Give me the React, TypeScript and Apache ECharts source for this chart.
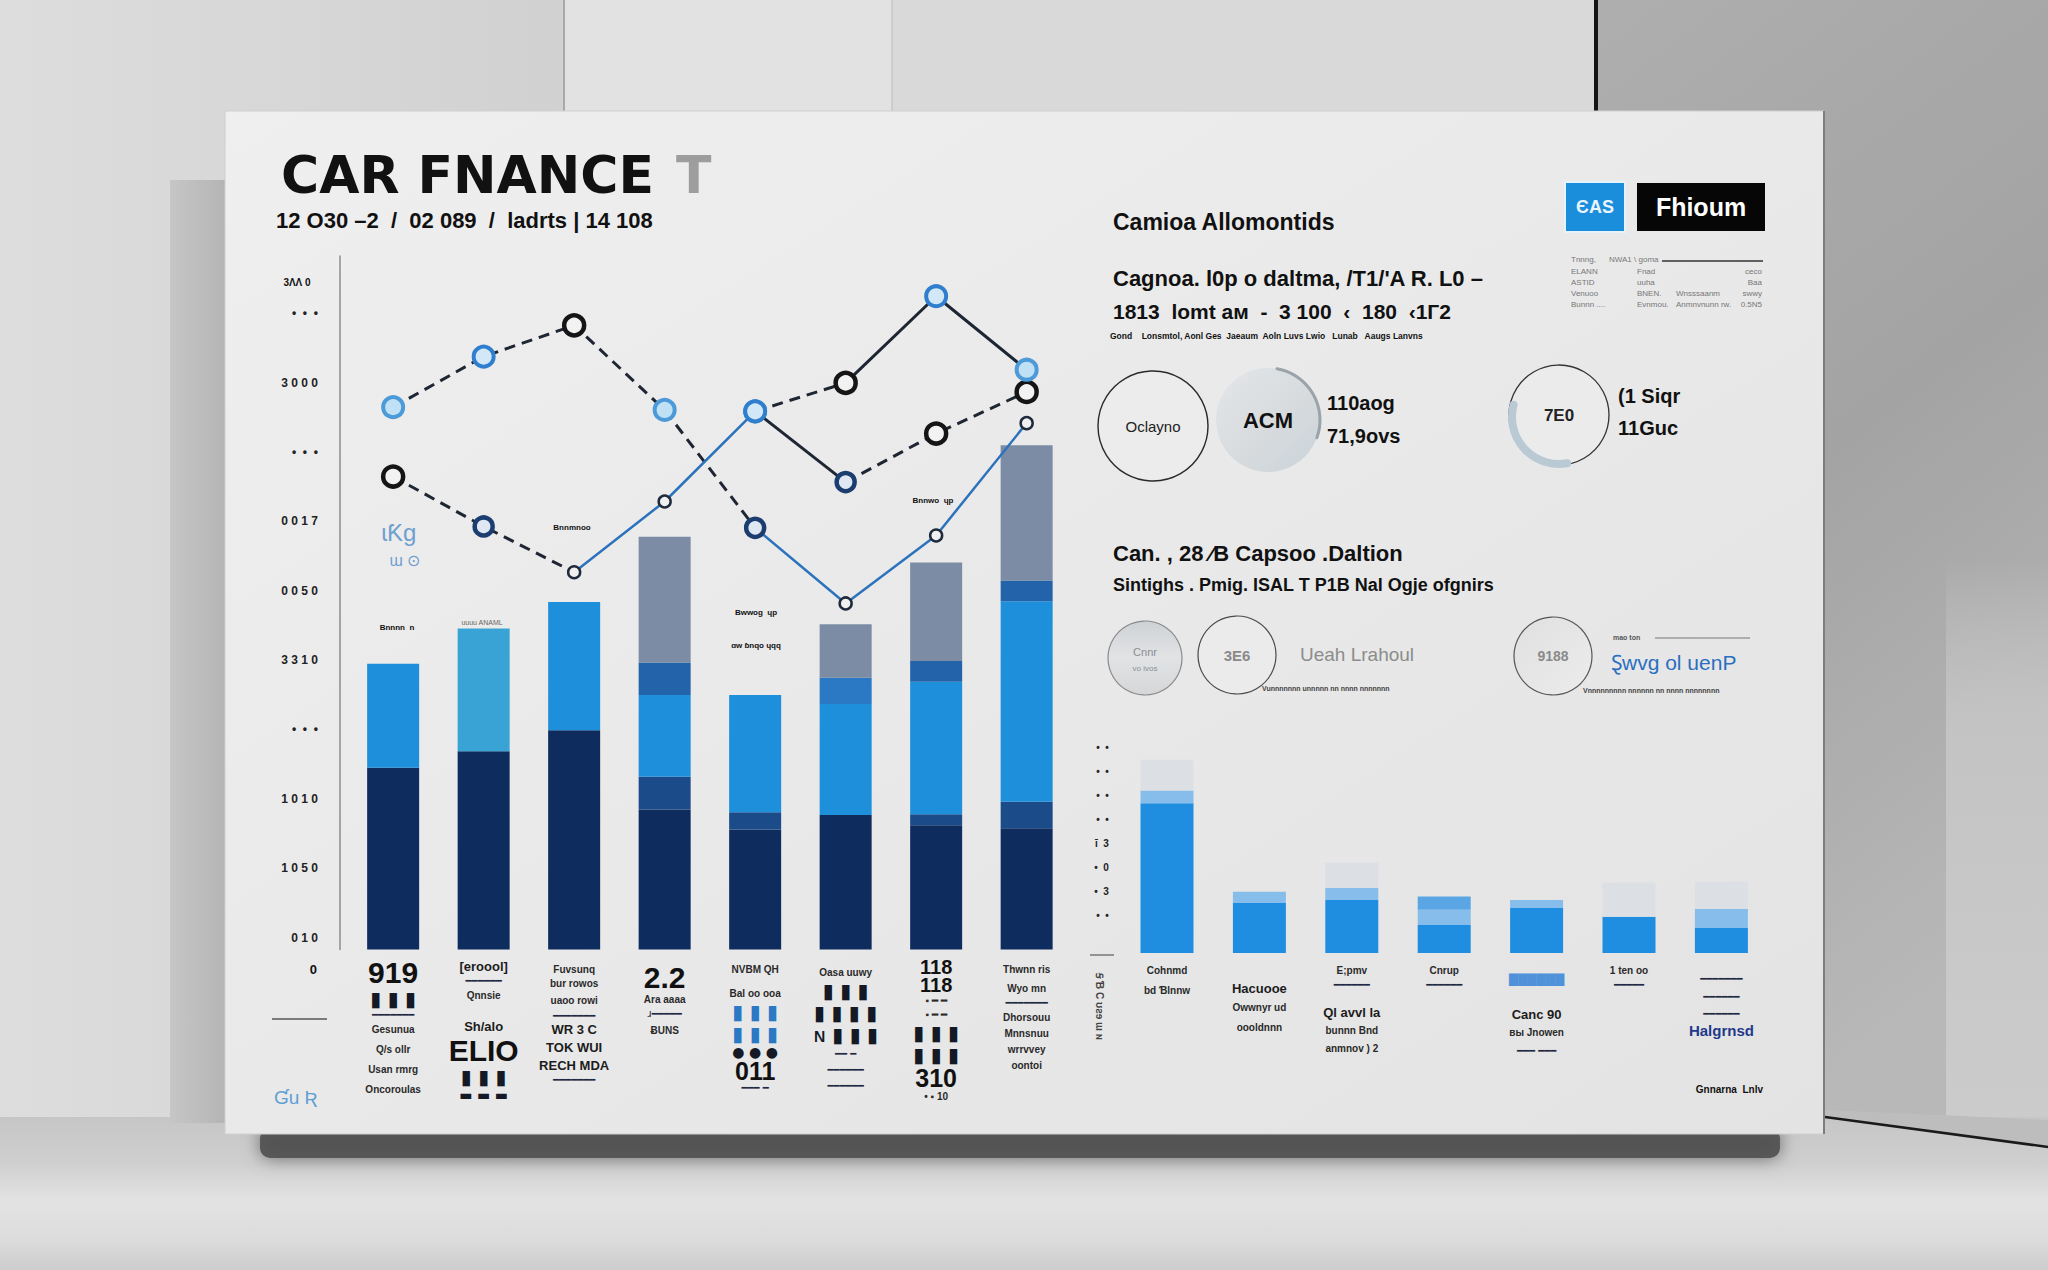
import React, { useEffect, useRef } from "react";
import * as echarts from "echarts";

const SANS = "'Liberation Sans', Arial, Helvetica, sans-serif";
const DEJA = "'DejaVu Sans', sans-serif";
const NARROW = "'Liberation Sans Narrow', 'Liberation Sans', Arial, sans-serif";

// ---------------- left chart data ----------------
const leftCategories = ["C1", "C2", "C3", "C4", "C5", "C6", "C7", "C8"];
const leftNavy = [2.62, 2.86, 3.16, 2.02, 1.73, 1.94, 1.79, 1.75];
const leftMidNavy = [0, 0, 0, 0.47, 0.25, 0, 0.16, 0.38];
const leftBlue = [1.5, 1.77, 1.85, 1.18, 1.69, 1.6, 1.91, 2.89];
const leftBand = [0, 0, 0, 0.47, 0, 0.38, 0.3, 0.3];
const leftGray = [0, 0, 0, 1.81, 0, 0.77, 1.42, 1.95];
const lineA = [7.82, 8.55, 9.0, 7.78, 6.08, 4.99, 5.97, 7.59];
const lineB = [6.82, 6.1, 5.44, 6.46, 7.76, 6.74, 7.44, 8.04];
const lineC = [null, null, null, null, 7.76, 8.17, 9.42, 8.36];
const leftYLabels = ["0 1 0", "1 0 5 0", "1 0 1 0", "•  •  •", "3 3 1 0", "0 0 5 0", "0 0 1 7", "•  •  •", "3 0 0 0", "•  •  •"];
const leftXLabelRows = [
  ["919", "▮ ▮ ▮", "━━━━━━━", "Gesunua", "Q/s ollr", "Usan rmrg", "Oncoroulas"],
  ["[eroool]", "━━━━━━", "Qnnsie", " ", "Sh/alo", "ELIO", "▮ ▮ ▮", "▬ ▬ ▬"],
  [" ", "Fuvsunq", "bur rowos", "uaoo rowi", "━━━━━━━", "WR 3 C", "TOK WUI", "RECH MDA", "━━━━━━━"],
  [" ", "2.2", "Ara aaaa", "ɹ━━━━━", "ɃUNS"],
  [" ", "NVBM QH", " ", "Bal oo ooa", "▮ ▮ ▮", "▮ ▮ ▮", "● ● ●", "011", "━━━ ━"],
  [" ", "Oasa uuwy", "▮ ▮ ▮", "▮ ▮ ▮ ▮", "ɴ ▮ ▮ ▮", "━━ ━", "━━━━━━", "━━━━━━"],
  ["118", "118", "▪ ━ ━", "▪ ━ ━", "▮ ▮ ▮", "▮ ▮ ▮", "310", "• ▪ 10"],
  [" ", "Thwnn ris", " ", "Wyo mn", "━━━━━━━", "Dhorsouu", "Mnnsnuu", "wrrvvey", "oontoi"],
];
const leftXLabelKinds = [
  ["B", "K", "R10", "S", "S", "S", "S"],
  ["M", "R10", "S", "E12", "M", "B", "K", "KS"],
  ["E5", "T", "T", "S", "R10", "M", "M", "M", "R10"],
  ["E5", "B", "T", "R14", "S"],
  ["E5", "T", "E10", "T", "KB", "KB", "KS", "N2", "R10"],
  ["E8", "T", "K", "K", "K", "R16", "R16", "R16"],
  ["N", "N", "T", "T", "K", "K", "N2", "T"],
  ["E5", "T", "E5", "T", "R14", "T16", "T16", "T16", "T16"],
];
const markerKindsA = ["lb", "b", "k", "lb", "db", "sm", "sm", "sm"];
const markerKindsB = ["k", "db", "sm", "sm", "b", "db", "k", "k"];
const markerKindsC = ["", "", "", "", "b", "k", "b", "lb"];

// ---------------- right chart data ----------------
const rightCategories = ["D1", "D2", "D3", "D4", "D5", "D6", "D7"];
const rightBlue = [6.24, 2.08, 2.21, 1.17, 1.88, 1.51, 1.04];
const rightBand = [0.53, 0.47, 0.5, 0.63, 0.33, 0, 0.79];
const rightPale = [1.28, 0, 1.05, 0.55, 0, 1.42, 1.14];
const rightYLabels = ["•  •", "•  3", "•  0", "ī  3", "•  •", "•  •", "•  •", "•  •"];
const rightXLabelRows = [
  ["Cohnmd", " ", "bd Ɓlnnw"],
  [" ", "Hacuooe", "Owwnyr ud", "oooldnnn"],
  ["E;pmv", "━━━━━━", " ", "Ql avvl la", "bunnn Bnd", "anmnov ) 2"],
  ["Cnrup", "━━━━━━"],
  [" ", "▇▇▇▇▇▇", " ", "Canc 90", "вы Jnowen", "━━━ ━━━"],
  ["1 ten oo", "━━━━━"],
  [" ", "━━━━━━━", "━━━━━━", "━━━━━━", "Halgrnsd"],
];
const rightXLabelKinds = [
  ["T", "E6", "T"],
  ["E16", "M", "S", "S"],
  ["T", "R14", "E12", "M", "T18", "T18"],
  ["T", "R14"],
  ["E6", "BX", "E16", "M", "T18", "R18"],
  ["T", "R14"],
  ["E6", "R18", "R18", "R16", "MB"],
];

// ---------------- styles ----------------
const RICH: any = {
  E5: { fontSize: 4, lineHeight: 5 },
  E6: { fontSize: 4, lineHeight: 6 },
  E8: { fontSize: 4, lineHeight: 8 },
  E10: { fontSize: 4, lineHeight: 10 },
  E12: { fontSize: 4, lineHeight: 12 },
  E16: { fontSize: 4, lineHeight: 16 },
  B: { fontFamily: NARROW, fontWeight: "bold", fontSize: 30, lineHeight: 30, color: "#111" },
  N: { fontFamily: NARROW, fontWeight: "bold", fontSize: 20, lineHeight: 18, color: "#111" },
  N2: { fontFamily: NARROW, fontWeight: "bold", fontSize: 25, lineHeight: 24, color: "#111" },
  M: { fontFamily: SANS, fontWeight: "bold", fontSize: 13, lineHeight: 18, color: "#1c1c1c" },
  MB: { fontFamily: SANS, fontWeight: "bold", fontSize: 15, lineHeight: 18, color: "#1f3a8a" },
  T: { fontFamily: SANS, fontWeight: "bold", fontSize: 10, lineHeight: 14, color: "#2a2a2a" },
  T16: { fontFamily: SANS, fontWeight: "bold", fontSize: 10, lineHeight: 16, color: "#2a2a2a" },
  T18: { fontFamily: SANS, fontWeight: "bold", fontSize: 10, lineHeight: 18, color: "#2a2a2a" },
  S: { fontFamily: SANS, fontWeight: "bold", fontSize: 10, lineHeight: 20, color: "#2a2a2a" },
  R10: { fontFamily: DEJA, fontSize: 10, lineHeight: 10, color: "#1e2a44" },
  R14: { fontFamily: DEJA, fontSize: 10, lineHeight: 14, color: "#1e2a44" },
  R16: { fontFamily: DEJA, fontSize: 10, lineHeight: 16, color: "#1e2a44" },
  R18: { fontFamily: DEJA, fontSize: 10, lineHeight: 18, color: "#1e2a44" },
  K: { fontFamily: DEJA, fontSize: 20, lineHeight: 22, color: "#151926" },
  KS: { fontFamily: DEJA, fontSize: 14, lineHeight: 14, color: "#151926" },
  KB: { fontFamily: DEJA, fontSize: 20, lineHeight: 22, color: "#2b79c4" },
  BX: { fontFamily: DEJA, fontSize: 12, lineHeight: 20, color: "#4f92da" },
};

const MK: any = {
  lb: { size: 20, fill: "#bfe0f5", stroke: "#4d9ad8", bw: 4 },
  b: { size: 20, fill: "#d3e8f6", stroke: "#2f7fce", bw: 4 },
  k: { size: 20, fill: "#f2f2f2", stroke: "#151515", bw: 4.5 },
  db: { size: 18, fill: "#dfe8f2", stroke: "#1c3d70", bw: 4.5 },
  sm: { size: 12, fill: "#f0f0f0", stroke: "#1f2b3c", bw: 2.5 },
};

function txt(x: number, y: number, text: string, size: number, o: any = {}) {
  const align = o.align || "left";
  const va = o.va || "middle";
  return {
    type: "text",
    x,
    y,
    rotation: o.rotation || 0,
    style: {
      text,
      fill: o.color || "#111",
      font: `${o.weight || "bold"} ${size}px ${o.family || SANS}`,
      align,
      verticalAlign: va,
      textAlign: align,
      textVerticalAlign: va,
      opacity: o.opacity == null ? 1 : o.opacity,
    },
  };
}
function rect(x: number, y: number, w: number, h: number, fill: any, extra: any = {}) {
  return { type: "rect", shape: { x, y, width: w, height: h, r: extra.r || 0 }, style: { fill, stroke: extra.stroke || null, lineWidth: extra.lw || 0, shadowBlur: extra.blur || 0, shadowColor: extra.shadow || "transparent", opacity: extra.opacity == null ? 1 : extra.opacity } };
}
function line(x1: number, y1: number, x2: number, y2: number, stroke: string, lw: number) {
  return { type: "line", shape: { x1, y1, x2, y2 }, style: { stroke, lineWidth: lw } };
}
function circle(cx: number, cy: number, r: number, fill: any, stroke: string | null, lw: number) {
  return { type: "circle", shape: { cx, cy, r }, style: { fill, stroke, lineWidth: lw } };
}
function arc(cx: number, cy: number, r: number, a0: number, a1: number, stroke: string, lw: number) {
  return { type: "arc", shape: { cx, cy, r, startAngle: (a0 * Math.PI) / 180, endAngle: (a1 * Math.PI) / 180, clockwise: true }, style: { stroke, lineWidth: lw, fill: null, lineCap: "round" } };
}
const LG = (x0: number, y0: number, x1: number, y1: number, stops: [number, string][]) =>
  new echarts.graphic.LinearGradient(x0, y0, x1, y1, stops.map(([offset, color]) => ({ offset, color })));

function buildGraphics() {
  const g: any[] = [];
  // room background
  g.push(rect(0, 0, 2048, 1270, "#d8d8d8"));
  g.push(rect(0, 0, 564, 1117, LG(0, 0, 1, 0, [[0, "#dddddd"], [1, "#d1d1d1"]])));
  g.push(rect(564, 0, 328, 1117, "#e2e2e2"));
  g.push(rect(892, 0, 704, 1117, "#d9d9d9"));
  g.push(rect(1596, 0, 452, 1150, LG(0, 0, 0.3, 1, [[0, "#aeaeae"], [0.5, "#a3a3a3"], [1, "#b8b8b8"]])));
  g.push(rect(1946, 560, 102, 590, LG(0, 0, 0, 1, [[0, "rgba(205,205,205,0)"], [0.3, "#c4c4c4"], [1, "#cccccc"]])));
  g.push(line(564, 0, 564, 111, "#a9a9a9", 2));
  g.push(line(892, 0, 892, 111, "#bcbcbc", 1));
  g.push(line(1596, 0, 1596, 111, "#141414", 4));
  // floor
  g.push(rect(0, 1117, 2048, 153, LG(0, 0, 0, 1, [[0, "#c6c6c6"], [0.3, "#cfcfcf"], [0.55, "#e3e3e3"], [0.8, "#dcdcdc"], [1, "#cdcdcd"]])));
  g.push({ type: "polygon", shape: { points: [[1825, 1117], [2048, 1146], [2048, 1120], [1825, 1110]] }, style: { fill: "#bdbdbd" } });
  g.push(line(1825, 1117, 2048, 1147, "#1a1a1a", 2.5));
  // side panel behind board
  g.push(rect(170, 180, 60, 943, LG(0, 0, 1, 0, [[0, "#c6c6c6"], [1, "#b3b3b3"]])));
  // board shadow
  g.push(rect(260, 1128, 1520, 30, "#4f4f4f", { r: 10, blur: 18, shadow: "rgba(0,0,0,0.55)", opacity: 0.9 }));
  // board
  g.push(rect(225, 111, 1599, 1023, LG(0, 0, 1, 1, [[0, "#efefef"], [0.5, "#e9e9e9"], [1, "#e3e3e3"]]), { stroke: "#cfcfcf", lw: 1 }));
  g.push(line(1824, 111, 1824, 1134, "#7d7d7d", 2));

  // title block
  g.push(txt(281, 175, "CAR FNANCE", 52, { family: DEJA }));
  g.push(txt(676, 175, "T", 52, { family: DEJA, color: "#9d9d9d" }));
  g.push(txt(276, 220, "12 O30 –2  /  02 089  /  ladrts | 14 108", 22));

  // left chart extras
  g.push(txt(297, 282, "3ΛΛ 0", 10, { align: "center" }));
  g.push(txt(317, 969, "0", 13, { align: "right" }));
  g.push(line(272, 1019, 327, 1019, "#555", 1.5));
  g.push(txt(274, 1097, "Ɠu Ʀ", 19, { color: "#5d9fd3", weight: "normal" }));
  g.push(txt(399, 532, "ɩƘg", 24, { color: "#6f9fd0", weight: "normal", align: "center" }));
  g.push(txt(405, 560, "ɯ ⊙", 16, { color: "#6f9fd0", weight: "normal", align: "center" }));
  g.push(txt(572, 527, "Bnnmnoo", 8, { align: "center" }));
  g.push(txt(397, 627, "Bnnnn  n", 8, { align: "center" }));
  g.push(txt(482, 622, "uuuu ANAML", 7, { align: "center", color: "#666", weight: "normal" }));
  g.push(txt(756, 612, "Bwwog  ɥp", 8, { align: "center" }));
  g.push(txt(756, 645, "ɑw ɓnqo ɥqq", 8, { align: "center" }));
  g.push(txt(933, 500, "Bnnwo  ɥp", 8, { align: "center" }));

  // right header texts
  g.push(txt(1113, 222, "Camioa Allomontids", 23));
  g.push(txt(1113, 278, "Cagnoa. l0p o daltma, /T1/'A R. L0 –", 22));
  g.push(txt(1113, 311, "1813  lomt aм  -  3 100  ‹  180  ‹1Г2", 21));
  g.push(txt(1110, 336, "Gond    Lonsmtol, Aonl Ges  Jaeaum  Aoln Luvs Lwio   Lunab   Aaugs Lanvns", 8.5));

  // label boxes
  g.push(rect(1565, 182, 60, 50, "#1b8edb", { stroke: "#e8f2fb", lw: 2 }));
  g.push(txt(1595, 207, "ЄAS", 18, { align: "center", color: "#eaf4ff" }));
  g.push(rect(1636, 182, 130, 50, "#060606", { stroke: "#e8e8e8", lw: 2 }));
  g.push(txt(1701, 207, "Fhioum", 25, { align: "center", color: "#ffffff" }));

  // tiny table
  const tc = { weight: "normal", color: "#777" };
  g.push(txt(1571, 259, "Tnnng,", 8, tc));
  g.push(txt(1609, 259, "NWA1 \\ goma", 8, tc));
  g.push(line(1662, 261, 1763, 261, "#333", 1.5));
  const tRows = [
    ["ELANN", "Fnad", "", "ceco"],
    ["ASTID", "uuha", "", "Baa"],
    ["Venuoo", "BNEN.", "Wnsssaanm", "swwy"],
    ["Bunnn ....", "Evnmou.", "Anmnvnunn rw.", "0.5N5"],
  ];
  tRows.forEach((r, i) => {
    const y = 271 + i * 11;
    g.push(txt(1571, y, r[0], 8, tc));
    g.push(txt(1637, y, r[1], 8, tc));
    if (r[2]) g.push(txt(1676, y, r[2], 8, tc));
    g.push(txt(1762, y, r[3], 8, { ...tc, align: "right" }));
  });

  // circles row 1
  g.push(circle(1153, 426, 55, "#ececec", "#2a2a2a", 1.4));
  g.push(txt(1153, 426, "Oclayno", 15, { align: "center", weight: "normal", color: "#222" }));
  g.push(circle(1268, 420, 52, LG(0, 0, 1, 1, [[0, "#e4e6e8"], [0.6, "#d6dadd"], [1, "#c9d4da"]]), null, 0));
  g.push(arc(1268, 420, 52, 280, 20, "#9aa3aa", 3));
  g.push(txt(1268, 420, "ACM", 22, { align: "center", color: "#111" }));
  g.push(txt(1327, 403, "110aog", 20));
  g.push(txt(1327, 436, "71,9ovs", 20));
  g.push(circle(1559, 415, 50, "#ebebeb", "#333", 1.3));
  g.push(arc(1559, 417, 47, 80, 195, "#b9cad5", 8));
  g.push(txt(1559, 415, "7E0", 17, { align: "center", color: "#222" }));
  g.push(txt(1618, 396, "(1 Siqr", 20));
  g.push(txt(1618, 428, "11Guc", 20));

  // section 2 header
  g.push(txt(1113, 553, "Can. , 28 ⁄B Capsoo .Daltion", 22));
  g.push(txt(1113, 585, "Sintighs . Pmig. ISAL T P1B Nal Ogje ofgnirs", 18));

  // circles row 2
  g.push(circle(1145, 658, 37, LG(0, 0, 0, 1, [[0, "#cfd2d5"], [0.5, "#e1e3e5"], [1, "#d4d6d8"]]), "#8a8a8a", 1.2));
  g.push(txt(1145, 652, "Cnnr", 11, { align: "center", color: "#8a8f94", weight: "normal" }));
  g.push(txt(1145, 668, "vo ivos", 8, { align: "center", color: "#8a8f94", weight: "normal" }));
  g.push(circle(1237, 655, 39, "#ebebeb", "#4a4a4a", 1.2));
  g.push(txt(1237, 655, "3E6", 15, { align: "center", color: "#8a8a8a" }));
  g.push(txt(1300, 654, "Ueah Lrahoul", 19, { color: "#8c8c8c", weight: "normal" }));
  g.push(txt(1262, 688, "Vunnnnnnn unnnnn nn nnnn nnnnnnn", 7, { color: "#444" }));
  g.push(circle(1553, 656, 39, LG(0, 0, 1, 1, [[0, "#e0e0e0"], [1, "#ececec"]]), "#555", 1.2));
  g.push(txt(1553, 656, "9188", 14, { align: "center", color: "#8a8a8a" }));
  g.push(txt(1613, 637, "mao ton", 7, { color: "#555" }));
  g.push(line(1655, 638, 1750, 638, "#777", 1));
  g.push(txt(1611, 662, "Ȿwvg ol uenP", 21, { color: "#2a6fc0", weight: "normal" }));
  g.push(txt(1583, 690, "Vnnnnnnnnn nnnnnn nn nnnn nnnnnnnn", 7, { color: "#444" }));

  // right chart extras
  g.push(line(1090, 955, 1114, 955, "#777", 1.5));
  g.push(txt(1099, 973, "Ꞩ Ɓ C ʊƨɘ ɯ ɴ", 10, { rotation: -Math.PI / 2, color: "#444" }));
  g.push(txt(1763, 1089, "Gnnarna  Lnlv", 10, { align: "right" }));
  return g;
}

function seg(arr: (number | null)[], a: number, b: number) {
  return arr.map((v, i) => (i >= a && i <= b && v != null ? v : "-"));
}
function lineSeg(data: any[], color: string, dashed: boolean, width = 3) {
  return {
    type: "line", xAxisIndex: 0, yAxisIndex: 0, data, symbol: "none", connectNulls: false, z: 5,
    lineStyle: { color, width, type: dashed ? [11, 7] : "solid" },
  };
}
function markers(arr: (number | null)[], kinds: string[]) {
  return {
    type: "scatter", xAxisIndex: 0, yAxisIndex: 0, z: 6,
    data: arr.map((v, i) => {
      if (v == null || !kinds[i]) return "-";
      const m = MK[kinds[i]];
      return { value: v, symbolSize: m.size, itemStyle: { color: m.fill, borderColor: m.stroke, borderWidth: m.bw, opacity: 1 } };
    }),
  };
}

function buildOption() {
  const DARK = "#1f2633";
  const BLUE = "#2c72bd";
  return {
    animation: false,
    textStyle: { fontFamily: SANS },
    graphic: { elements: buildGraphics() },
    grid: [
      { left: 347.9, width: 724, top: 256, height: 693.5 },
      { left: 1120.8, width: 646.8, top: 749, height: 204 },
    ],
    xAxis: [
      {
        type: "category", gridIndex: 0, data: leftCategories,
        axisLine: { show: false }, axisTick: { show: false },
        axisLabel: {
          interval: 0, margin: 8, hideOverlap: false, verticalAlign: "top",
          formatter: (_v: string, idx: number) => leftXLabelRows[idx].map((t, j) => `{${leftXLabelKinds[idx][j]}|${t}}`).join("\n"),
          rich: RICH,
        },
      },
      {
        type: "category", gridIndex: 1, data: rightCategories,
        axisLine: { show: false }, axisTick: { show: false },
        axisLabel: {
          interval: 0, margin: 10, hideOverlap: false, verticalAlign: "top",
          formatter: (_v: string, idx: number) => rightXLabelRows[idx].map((t, j) => `{${rightXLabelKinds[idx][j]}|${t}}`).join("\n"),
          rich: RICH,
        },
      },
    ],
    yAxis: [
      {
        type: "value", gridIndex: 0, min: 0, max: 10, interval: 1, offset: 8,
        axisLine: { show: true, lineStyle: { color: "#8c8c8c", width: 1.5 } },
        axisTick: { show: false }, splitLine: { show: false },
        axisLabel: {
          showMaxLabel: false, margin: 22, verticalAlign: "bottom", lineHeight: 24,
          fontSize: 12, fontWeight: "bold", color: "#222",
          formatter: (v: number) => leftYLabels[Math.round(v)] ?? "",
        },
      },
      {
        type: "value", gridIndex: 1, min: 0, max: 8.5, interval: 1,
        axisLine: { show: false }, axisTick: { show: false }, splitLine: { show: false },
        axisLabel: {
          showMaxLabel: false, margin: 12, verticalAlign: "bottom", lineHeight: 28,
          fontSize: 10, fontWeight: "bold", color: "#222",
          formatter: (v: number) => (v >= 1 && v <= 8 ? rightYLabels[Math.round(v) - 1] : ""),
        },
      },
    ],
    series: [
      { type: "bar", xAxisIndex: 0, yAxisIndex: 0, stack: "L", barWidth: 52, data: leftNavy, itemStyle: { color: "#0e2c5e" } },
      { type: "bar", xAxisIndex: 0, yAxisIndex: 0, stack: "L", barWidth: 52, data: leftMidNavy, itemStyle: { color: "#1c4b8a" } },
      {
        type: "bar", xAxisIndex: 0, yAxisIndex: 0, stack: "L", barWidth: 52,
        data: leftBlue.map((v, i) => (i === 1 ? { value: v, itemStyle: { color: "#3aa3d6" } } : v)),
        itemStyle: { color: "#1e8fdb" },
      },
      {
        type: "bar", xAxisIndex: 0, yAxisIndex: 0, stack: "L", barWidth: 52,
        data: leftBand.map((v, i) => (i === 5 ? { value: v, itemStyle: { color: "#2b78c4" } } : v)),
        itemStyle: { color: "#2363aa" },
      },
      { type: "bar", xAxisIndex: 0, yAxisIndex: 0, stack: "L", barWidth: 52, data: leftGray, itemStyle: { color: "#7b8ca4" } },

      lineSeg(seg(lineA, 0, 4), DARK, true),
      lineSeg(seg(lineA, 4, 7), BLUE, false, 2.5),
      lineSeg(seg(lineB, 0, 2), DARK, true),
      lineSeg(seg(lineB, 2, 4), BLUE, false, 2.5),
      lineSeg(seg(lineB, 4, 5), DARK, false),
      lineSeg(seg(lineB, 5, 7), DARK, true),
      lineSeg(seg(lineC, 4, 5), DARK, true),
      lineSeg(seg(lineC, 5, 7), DARK, false),
      markers(lineA, markerKindsA),
      markers(lineB, markerKindsB),
      markers(lineC, markerKindsC),

      { type: "bar", xAxisIndex: 1, yAxisIndex: 1, stack: "R", barWidth: 53, data: rightBlue, itemStyle: { color: "#1f8ee0" } },
      { type: "bar", xAxisIndex: 1, yAxisIndex: 1, stack: "R", barWidth: 53, data: rightBand, itemStyle: { color: "#86bdea" } },
      {
        type: "bar", xAxisIndex: 1, yAxisIndex: 1, stack: "R", barWidth: 53,
        data: rightPale.map((v, i) => (i === 3 ? { value: v, itemStyle: { color: "#5aa6e4" } } : v)),
        itemStyle: { color: "#dcdfe3" },
      },
    ],
  };
}

export default function App() {
  const ref = useRef<HTMLDivElement>(null);
  useEffect(() => {
    document.body.style.margin = "0";
    const chart = echarts.init(ref.current!, undefined, { renderer: "svg", width: 2048, height: 1270 });
    chart.setOption(buildOption() as any);
    return () => chart.dispose();
  }, []);
  return <div ref={ref} style={{ width: 2048, height: 1270 }} />;
}
